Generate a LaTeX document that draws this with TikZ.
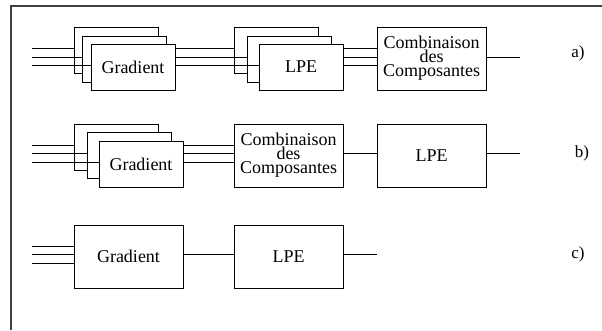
\documentclass[tikz,border=0pt]{standalone}
\usepackage{fontspec}
\setmainfont{Liberation Serif}
\begin{document}
\begin{tikzpicture}[x=1pt,y=-1pt,
  box/.style={draw,fill=white,line width=0.9pt,inner sep=0pt,font=\fontsize{18}{14}\selectfont,align=center},
  small/.style={box,minimum width=84pt,minimum height=46pt},
  big/.style={box,minimum width=109pt,minimum height=63pt},
  wire/.style={line width=0.9pt},
  lbl/.style={font=\fontsize{17}{18}\selectfont}]
\useasboundingbox (0,0) rectangle (602,330);
% frame
\coordinate (fa) at (11,330);
\coordinate (fb) at (11,6);
\coordinate (fc) at (602,6);
\draw[line width=1.1pt,black!75] (fa) -- (fb) -- (fc);

% ---------- row a ----------
\node[small] (gA1) at (116,50) {};
\node[small] (gA2) at (124.5,59) {};
\node[small] (gA3) at (133,67) {Gradient};
\node[small] (lA1) at (276,50) {};
\node[small] (lA2) at (289.5,59) {};
\node[small] (lA3) at (301,67) {LPE};
\node[big] (cA) at (431.5,58.5) {Combinaison\\des\\Composantes};
\node[lbl] (la) at (578,53) {a)};
\coordinate (ia1) at (32,48);
\coordinate (ia2) at (32,57);
\coordinate (ia3) at (32,65);
\draw[wire] (ia1) -- (ia1 -| gA1.west);
\draw[wire] (ia2) -- (ia2 -| gA2.west);
\draw[wire] (ia3) -- (ia3 -| gA3.west);
\draw[wire] (gA3.east |- ia1) -- (lA1.west |- ia1);
\draw[wire] (gA3.east |- ia2) -- (lA2.west |- ia2);
\draw[wire] (gA3.east |- ia3) -- (lA3.west |- ia3);
\draw[wire] (lA3.east |- ia1) -- (cA.west |- ia1);
\draw[wire] (lA3.east |- ia2) -- (cA.west |- ia2);
\draw[wire] (lA3.east |- ia3) -- (cA.west |- ia3);
\coordinate (oa) at (520,57);
\draw[wire] (cA.east |- oa) -- (oa);

% ---------- row b ----------
\node[small] (gB1) at (116,147) {};
\node[small] (gB2) at (129,155.5) {};
\node[small] (gB3) at (141,164) {Gradient};
\node[big] (cB) at (288.5,155.5) {Combinaison\\des\\Composantes};
\node[big] (lB) at (431.5,155.5) {LPE};
\node[lbl] (lb) at (582,153) {b)};
\coordinate (ib1) at (32,145);
\coordinate (ib2) at (32,153);
\coordinate (ib3) at (32,162);
\draw[wire] (ib1) -- (ib1 -| gB1.west);
\draw[wire] (ib2) -- (ib2 -| gB2.west);
\draw[wire] (ib3) -- (ib3 -| gB3.west);
\draw[wire] (gB3.east |- ib1) -- (cB.west |- ib1);
\draw[wire] (gB3.east |- ib2) -- (cB.west |- ib2);
\draw[wire] (gB3.east |- ib3) -- (cB.west |- ib3);
\draw[wire] (cB.east |- ib2) -- (lB.west |- ib2);
\coordinate (ob) at (520,153);
\draw[wire] (lB.east |- ob) -- (ob);

% ---------- row c ----------
\node[big] (gC) at (128.5,256.5) {Gradient};
\node[big] (lC) at (288.5,256.5) {LPE};
\node[lbl] (lc) at (578,254) {c)};
\coordinate (ic1) at (32,246);
\coordinate (ic2) at (32,254);
\coordinate (ic3) at (32,263);
\draw[wire] (ic1) -- (ic1 -| gC.west);
\draw[wire] (ic2) -- (ic2 -| gC.west);
\draw[wire] (ic3) -- (ic3 -| gC.west);
\draw[wire] (gC.east |- ic2) -- (lC.west |- ic2);
\coordinate (oc) at (377,254);
\draw[wire] (lC.east |- oc) -- (oc);
\end{tikzpicture}
\end{document}
